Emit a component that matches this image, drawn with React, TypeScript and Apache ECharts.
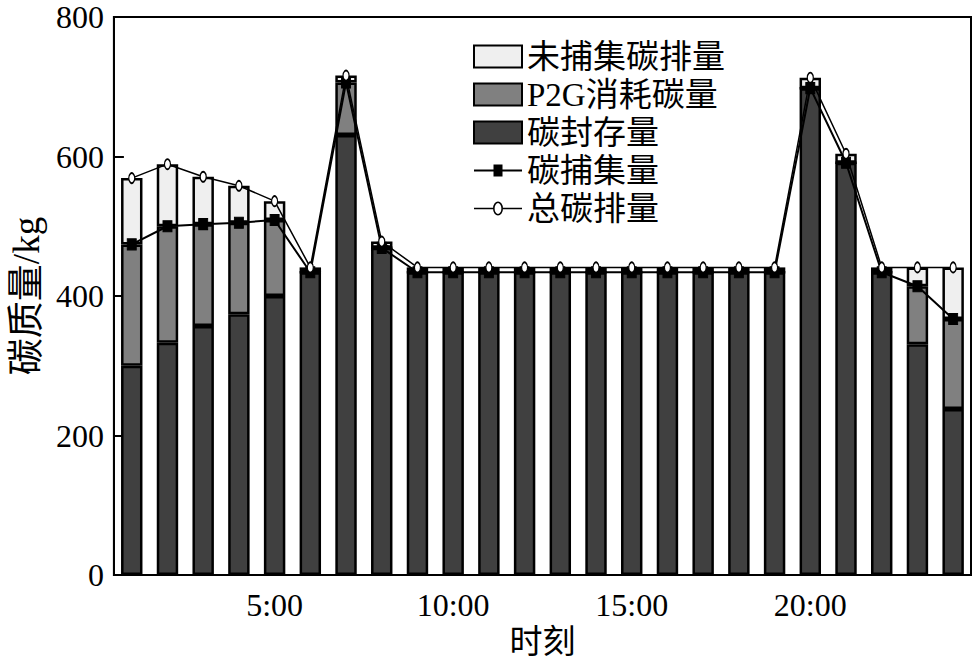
import React, { useEffect, useRef } from "react";
import * as echarts from "echarts";

const hours = ["1:00","2:00","3:00","4:00","5:00","6:00","7:00","8:00","9:00","10:00","11:00","12:00","13:00","14:00","15:00","16:00","17:00","18:00","19:00","20:00","21:00","22:00","23:00","24:00"];
const storage = [300, 333, 357, 374, 400, 434, 631, 469, 434, 434, 434, 434, 434, 434, 434, 434, 434, 434, 434, 698, 591, 434, 331, 238];
const p2g = [174, 167, 146, 131, 109, 0, 75, 0, 0, 0, 0, 0, 0, 0, 0, 0, 0, 0, 0, 0, 0, 0, 83, 129];
const uncaptured = [95, 89, 68, 53, 27, 7, 10, 9, 7, 7, 7, 7, 7, 7, 7, 7, 7, 7, 7, 15, 13, 7, 27, 74];
const captured = [474, 500, 503, 505, 509, 434, 706, 469, 434, 434, 434, 434, 434, 434, 434, 434, 434, 434, 434, 698, 591, 434, 414, 367];
const totalEmission = [569, 589, 571, 558, 536, 441, 716, 478, 441, 441, 441, 441, 441, 441, 441, 441, 441, 441, 441, 713, 604, 441, 441, 441];
const yTicks = [0, 200, 400, 600, 800];

const SERIF = "'Liberation Serif', 'Times New Roman', serif";
const CJK = "'Liberation Serif', 'Noto Sans CJK SC', serif";

const ICON_SQUARE_LINE = "path://M0 5 H19.5 V0 H28.5 V5 H48 V7 H28.5 V12 H19.5 V7 H0 Z";
const ICON_CIRCLE_LINE =
  "path://M0 6.2 H19 V7.8 H0 Z M29 6.2 H48 V7.8 H29 Z " +
  "M19 7 A5 7 0 1 0 29 7 A5 7 0 1 0 19 7 Z " +
  "M20.6 7 A3.4 5.4 0 1 1 27.4 7 A3.4 5.4 0 1 1 20.6 7 Z";

export default function App() {
  const ref = useRef<HTMLDivElement>(null);
  useEffect(() => {
    if (!ref.current) return;
    const chart = echarts.init(ref.current, null, { renderer: "svg" });
    const barCommon = {
      type: "bar",
      stack: "c",
      barWidth: "60%",
      z: 2,
    };
    chart.setOption({
      animation: false,
      backgroundColor: "#ffffff",
      grid: {
        left: 110, top: 17, right: 2, bottom: 89,
        show: true, borderColor: "#000", borderWidth: 2, backgroundColor: "transparent",
      },
      legend: {
        orient: "vertical",
        left: 468,
        top: 35,
        itemWidth: 48,
        itemHeight: 22,
        itemGap: 5,
        textStyle: { fontFamily: CJK, fontSize: 33, color: "#000", lineHeight: 31 },
        data: [
          { name: "未捕集碳排量", icon: "rect" },
          { name: "P2G消耗碳量", icon: "rect" },
          { name: "碳封存量", icon: "rect" },
          { name: "碳捕集量", icon: ICON_SQUARE_LINE, itemStyle: { color: "#000", borderWidth: 0 } },
          { name: "总碳排量", icon: ICON_CIRCLE_LINE, itemStyle: { color: "#000", borderWidth: 0 } },
        ],
      },
      xAxis: {
        type: "category",
        data: hours,
        name: "时刻",
        nameLocation: "middle",
        nameGap: 46,
        nameTextStyle: { fontFamily: CJK, fontSize: 33, color: "#000" },
        axisLine: { lineStyle: { color: "#000", width: 2 } },
        axisTick: { show: false },
        axisLabel: {
          interval: (i: number) => (i + 1) % 5 === 0,
          fontFamily: SERIF, fontSize: 32, color: "#000", margin: 14,
        },
      },
      yAxis: {
        type: "value",
        min: yTicks[0],
        max: yTicks[yTicks.length - 1],
        interval: 200,
        name: "碳质量/kg",
        nameLocation: "middle",
        nameGap: 66,
        nameRotate: 90,
        nameTextStyle: { fontFamily: CJK, fontSize: 37, color: "#000" },
        axisLine: { show: true, lineStyle: { color: "#000", width: 2 } },
        axisTick: { show: true, inside: true, length: 10, lineStyle: { color: "#000", width: 2 } },
        axisLabel: { fontFamily: SERIF, fontSize: 32, color: "#000", margin: 10 },
        splitLine: { show: false },
      },
      series: [
        { ...barCommon, name: "碳封存量", data: storage, itemStyle: { color: "#404040", borderColor: "#000", borderWidth: 2.5 } },
        { ...barCommon, name: "P2G消耗碳量", data: p2g, itemStyle: { color: "#808080", borderColor: "#000", borderWidth: 2.5 } },
        { ...barCommon, name: "未捕集碳排量", data: uncaptured, itemStyle: { color: "#efefef", borderColor: "#000", borderWidth: 2.5 } },
        {
          type: "line", name: "碳捕集量", data: captured, z: 5,
          symbol: "rect", symbolSize: [9, 11],
          lineStyle: { color: "#000", width: 2 },
          itemStyle: { color: "#000", borderColor: "#000" },
        },
        {
          type: "line", name: "总碳排量", data: totalEmission, z: 6,
          symbol: "circle", symbolSize: [6, 10],
          lineStyle: { color: "#000", width: 1.5 },
          itemStyle: { color: "#fff", borderColor: "#000", borderWidth: 1.5 },
        },
      ],
    });
    return () => chart.dispose();
  }, []);
  return <div ref={ref} style={{ width: 973, height: 664, position: "absolute", left: 0, top: 0 }} />;
}
